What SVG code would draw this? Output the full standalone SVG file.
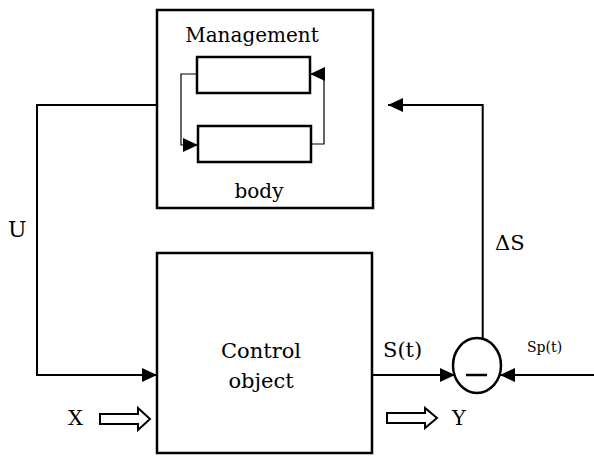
<svg xmlns="http://www.w3.org/2000/svg" width="594" height="457" viewBox="0 0 594 457">
<style>
.box{fill:#fff;stroke:#000;stroke-width:2.5}
.ln{fill:none;stroke:#000;stroke-width:2}
.thin{fill:none;stroke:#000;stroke-width:1.2}
.hollow{fill:#fff;stroke:#000;stroke-width:2;stroke-linejoin:miter}
.t{font-family:"DejaVu Serif","Liberation Serif",serif;fill:#000}
</style>
<defs>
<marker id="ah" viewBox="0 0 15 14" refX="15" refY="7" markerWidth="15" markerHeight="14" markerUnits="userSpaceOnUse" orient="auto">
<path d="M0,0 L15,7 L0,14 z" fill="#000"/>
</marker>
</defs>
<rect width="594" height="457" fill="#fff"/>
<g id="management-body">
<rect class="box" x="157" y="10" width="216" height="198"/>
<text class="t" x="252" y="42" text-anchor="middle" font-size="20">Management</text>
<text class="t" x="259" y="198" text-anchor="middle" font-size="20">body</text>
<rect class="box" x="197" y="57" width="113" height="36"/>
<rect class="box" x="198" y="126" width="113" height="36"/>
</g>
<g id="control-object">
<rect class="box" x="157" y="253" width="215" height="200"/>
<text class="t" x="261" y="358" text-anchor="middle" font-size="21">Control</text>
<text class="t" x="261" y="388" text-anchor="middle" font-size="21">object</text>
</g>
<g id="comparator">
<ellipse cx="477" cy="365.5" rx="24" ry="27.5" fill="#fff" stroke="#000" stroke-width="2.5"/>
<line x1="466" y1="375" x2="487" y2="375" stroke="#000" stroke-width="2.5"/>
</g>
<g id="connectors">
<path class="thin" d="M197,74 H181 V145 H198" marker-end="url(#ah)"/>
<path class="thin" d="M311,144 H324 V74 H310" marker-end="url(#ah)"/>
<path class="ln" d="M157,105 H37 V375 H157" marker-end="url(#ah)"/>
<path class="ln" d="M482.7,338 V105 H388" marker-end="url(#ah)"/>
<path class="ln" d="M372,375 H455" marker-end="url(#ah)"/>
<path class="ln" d="M594,375 H500" marker-end="url(#ah)"/>
<polygon class="hollow" points="100,414 138,414 138,408 150,419 138,430 138,424 100,424"/>
<polygon class="hollow" points="387,413 425,413 425,408 437,418 425,428 425,423 387,423"/>
</g>
<g id="labels">
<text class="t" x="8" y="237" font-size="22">U</text>
<text class="t" x="495" y="250" font-size="21">ΔS</text>
<text class="t" x="383" y="357" font-size="21">S(t)</text>
<text class="t" x="527" y="352" font-size="14">Sp(t)</text>
<text class="t" x="68" y="425" font-size="21">X</text>
<text class="t" x="452" y="425" font-size="21">Y</text>
</g>
</svg>
